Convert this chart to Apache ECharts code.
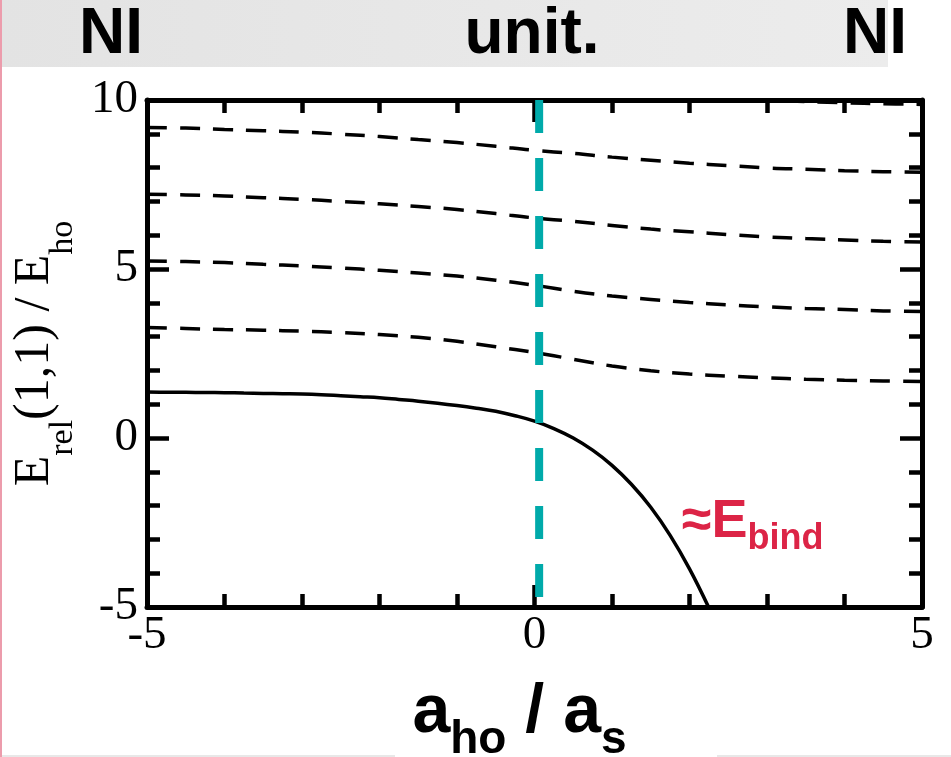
<!DOCTYPE html>
<html>
<head>
<meta charset="utf-8">
<script src="https://cdn.jsdelivr.net/npm/echarts@6/dist/echarts.min.js"></script>
<style>
html,body{margin:0;padding:0;background:#fff;}
#chart{width:951px;height:757px;}
</style>
</head>
<body>
<div id="chart"></div>
<script>
// ---- data ----
const xTickLabels = ['-5', '0', '5'];
const yTickLabels = ['-5', '0', '5', '10'];
const topLabels = ['NI', 'unit.', 'NI'];

const xLevels = [-5, -4.5, -4, -3.5, -3, -2.5, -2, -1.5, -1, -0.5, 0, 0.5, 1, 1.5, 2, 2.5, 3, 3.5, 4, 4.5, 5];
const level1 = [3.27, 3.24, 3.21, 3.19, 3.16, 3.12, 3.06, 2.98, 2.86, 2.70, 2.53, 2.33, 2.13, 1.99, 1.89, 1.83, 1.78, 1.74, 1.71, 1.69, 1.67];
const level2 = [5.24, 5.22, 5.19, 5.14, 5.09, 5.03, 4.96, 4.88, 4.79, 4.67, 4.52, 4.34, 4.20, 4.10, 4.01, 3.94, 3.88, 3.83, 3.80, 3.76, 3.74];
const level3 = [7.21, 7.19, 7.16, 7.11, 7.06, 7.00, 6.93, 6.85, 6.76, 6.64, 6.51, 6.41, 6.29, 6.18, 6.10, 6.02, 5.95, 5.90, 5.86, 5.82, 5.80];
const level4 = [9.19, 9.17, 9.13, 9.09, 9.05, 8.99, 8.92, 8.83, 8.74, 8.63, 8.51, 8.42, 8.31, 8.22, 8.13, 8.06, 7.99, 7.95, 7.91, 7.88, 7.86];

const xLevel5 = [2.8, 3.3, 4, 4.5, 5];
const level5 = [10.05, 9.97, 9.92, 9.89, 9.87];

const xGround = [-5, -4.75, -4.5, -4.25, -4, -3.75, -3.5, -3.25, -3, -2.75, -2.5, -2.25, -2, -1.75, -1.5, -1.25,
  -1, -0.75, -0.5, -0.25, 0, 0.25, 0.5, 0.75, 1, 1.25, 1.5, 1.75, 2, 2.25];
const ground = [1.36, 1.355, 1.35, 1.345, 1.34, 1.33, 1.32, 1.31, 1.30, 1.28, 1.25, 1.22, 1.19, 1.14, 1.09, 1.03,
  0.96, 0.88, 0.79, 0.66, 0.50, 0.28, 0.00, -0.36, -0.81, -1.37, -2.05, -2.88, -3.87, -5.02];

const unitarityX = 0.06;           // position of the cyan vertical marker
const unitarityYRange = [10, -5];
const ebindAt = [1.9, -2.62];       // annotation anchor (data coords)

// ---- build ----
const pair = (xs, ys) => xs.map((x, i) => [x, ys[i]]);

const black = '#000';
const tickStyle = { color: black, width: 4.5, cap: 'butt' };
function makeAxis(pos, showLabels) {
  const isX = pos === 'bottom' || pos === 'top';
  return {
    type: 'value',
    position: pos,
    min: -5,
    max: isX ? 5 : 10,
    interval: 5,
    axisLine: { show: true, onZero: false, lineStyle: { color: black, width: 5 } },
    axisTick: { show: true, inside: true, length: 22, lineStyle: tickStyle },
    minorTick: { show: true, splitNumber: 5, length: 13, lineStyle: tickStyle },
    splitLine: { show: false },
    minorSplitLine: { show: false },
    axisLabel: {
      show: showLabels,
      fontFamily: 'Liberation Serif',
      fontSize: 47,
      color: black,
      margin: isX ? 5 : 9,
      formatter: v => {
        const arr = isX ? xTickLabels : yTickLabels;
        const s = String(v);
        return arr.indexOf(s) >= 0 ? s : '';
      }
    }
  };
}

const xBottom = Object.assign(makeAxis('bottom', true), {
  name: '{a|a}{s|ho}{a| / a}{s|s}',
  nameLocation: 'middle',
  nameGap: 72,
  nameTextStyle: {
    padding: [0, 30, 0, 0],
    rich: {
      a: { fontFamily: 'Liberation Sans', fontWeight: 'bold', fontSize: 68, color: black, verticalAlign: 'top' },
      s: { fontFamily: 'Liberation Sans', fontWeight: 'bold', fontSize: 46, color: black, verticalAlign: 'top', padding: [38, 0, 0, 0] }
    }
  }
});
const xTop = makeAxis('top', false);
const yLeft = Object.assign(makeAxis('left', true), {
  name: '{m|E}{s|rel}{m|(1,1) / E}{s|ho}',
  nameLocation: 'middle',
  nameGap: 64,
  nameTextStyle: {
    rich: {
      m: { fontFamily: 'Liberation Serif', fontSize: 50, color: black, verticalAlign: 'top' },
      s: { fontFamily: 'Liberation Serif', fontSize: 34, color: black, verticalAlign: 'top', padding: [36, 0, 0, 0] }
    }
  }
});
const yRight = makeAxis('right', false);

const dashed = { color: black, width: 3.5, type: [20, 13], cap: 'butt' };
function dashedSeries(name, xs, ys) {
  return { name, type: 'line', xAxisIndex: 0, yAxisIndex: 0, data: pair(xs, ys), smooth: 0.4,
    symbol: 'none', lineStyle: dashed, clip: true, z: 3 };
}

const chart = echarts.init(document.getElementById('chart'), null, { renderer: 'canvas' });
chart.setOption({
  animation: false,
  backgroundColor: '#fff',
  grid: { left: 147, right: 29, top: 100, bottom: 150, containLabel: false, outerBoundsMode: 'none' },
  xAxis: [xBottom, xTop],
  yAxis: [yLeft, yRight],
  graphic: [
    { type: 'rect', z: -10, shape: { x: 0, y: 0, width: 888, height: 67 },
      style: { fill: new echarts.graphic.LinearGradient(0, 0, 1, 0, [
        { offset: 0, color: '#e3e3e3' }, { offset: 1, color: '#ececec' }]) } },
    { type: 'rect', z: 10, shape: { x: 0, y: 0, width: 2, height: 757 }, style: { fill: '#ec9cac' } },
    { type: 'line', z: -10, shape: { x1: 0, y1: 756, x2: 395, y2: 756 }, style: { stroke: '#e8e8e8', lineWidth: 2 } },
    { type: 'line', z: -10, shape: { x1: 717, y1: 756, x2: 951, y2: 756 }, style: { stroke: '#e8e8e8', lineWidth: 2 } },
    { type: 'text', x: 111, y: 35, style: { text: topLabels[0], font: 'bold 64px "Liberation Sans"', fill: black, align: 'center', verticalAlign: 'middle' } },
    { type: 'text', x: 532, y: 35, style: { text: topLabels[1], font: 'bold 64px "Liberation Sans"', fill: black, align: 'center', verticalAlign: 'middle' } },
    { type: 'text', x: 875, y: 35, style: { text: topLabels[2], font: 'bold 64px "Liberation Sans"', fill: black, align: 'center', verticalAlign: 'middle' } }
  ],
  series: [
    { name: 'ground', type: 'line', data: pair(xGround, ground), smooth: 0.4, symbol: 'none',
      lineStyle: { color: black, width: 3.5 }, clip: true, z: 3,
      markPoint: {
        symbol: 'circle', symbolSize: 0, silent: true,
        data: [{ coord: ebindAt }],
        label: {
          show: true, position: 'right', distance: 0,
          formatter: '{m|≈E}{s|bind}',
          rich: {
            m: { fontFamily: 'Liberation Sans', fontWeight: 'bold', fontSize: 54, color: '#dc2446', verticalAlign: 'top' },
            s: { fontFamily: 'Liberation Sans', fontWeight: 'bold', fontSize: 36, color: '#dc2446', verticalAlign: 'top', padding: [26, 0, 0, 0] }
          }
        }
      }
    },
    dashedSeries('n1', xLevels, level1),
    dashedSeries('n2', xLevels, level2),
    dashedSeries('n3', xLevels, level3),
    dashedSeries('n4', xLevels, level4),
    dashedSeries('n5', xLevel5, level5),
    { name: 'unitarity', type: 'line', data: [[unitarityX, unitarityYRange[0]], [unitarityX, unitarityYRange[1]]],
      symbol: 'none', lineStyle: { color: '#00aaaa', width: 8, type: [33, 25], cap: 'butt' }, z: 4 }
  ]
});
</script>
</body>
</html>
